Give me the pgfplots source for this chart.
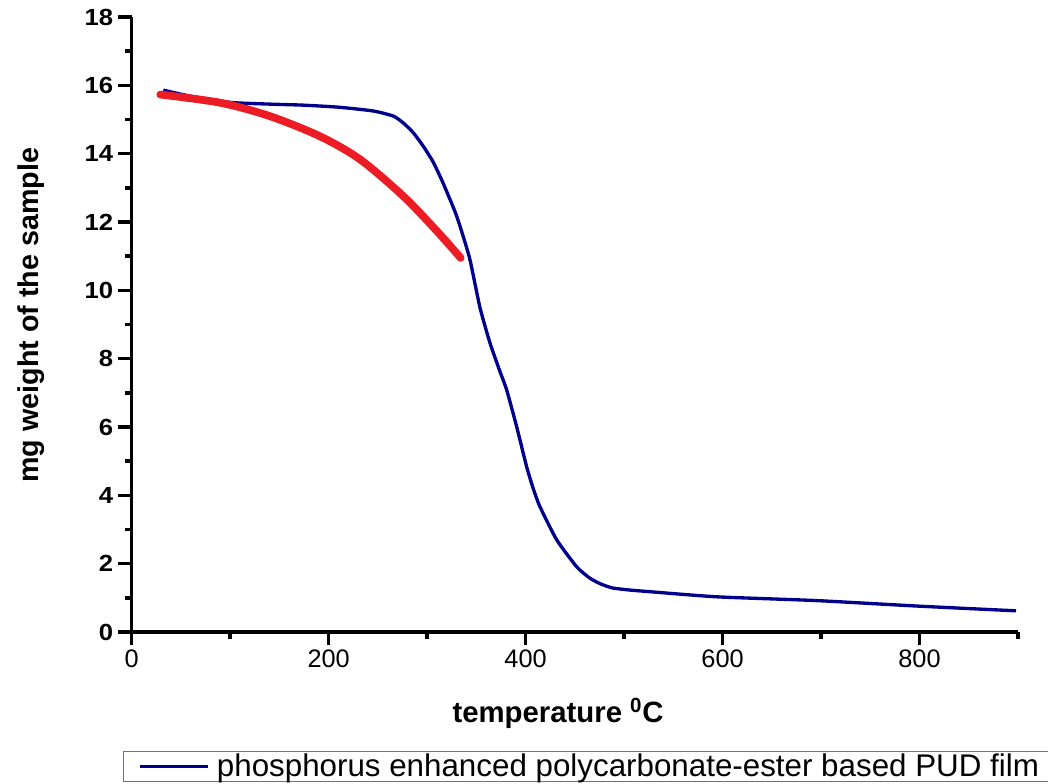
\documentclass[border=0pt]{standalone}
\usepackage{fontspec}
\setmainfont{Liberation Sans}
\usepackage{pgfplots}
\pgfplotsset{compat=1.18}
\definecolor{navyline}{RGB}{0,0,140}
\definecolor{redline}{RGB}{237,28,36}
\begin{document}
\begin{tikzpicture}
\useasboundingbox (-98.8pt,-114pt) rectangle (687.2pt,474pt);
\begin{axis}[
  at={(0,0)}, anchor=south west,
  scale only axis, width=664.7pt, height=461.25pt,
  xmin=0, xmax=900, ymin=0, ymax=18,
  axis lines*=left,
  x axis line style={line width=2.6pt},
  y axis line style={line width=2.6pt},
  xtick={0,200,...,800}, minor xtick={100,300,...,900},
  ytick={0,2,...,18}, minor ytick={1,3,...,17},
  tick align=outside,
  major tick length=10pt, minor tick length=5pt,
  every tick/.style={line width=2.6pt, black},
  tick style={line width=2.6pt, black},
  /pgf/number format/assume math mode=true,
  xticklabel style={font=\fontsize{19}{19}\selectfont},
  yticklabel style={font=\bfseries\fontsize{17.5}{17.5}\selectfont, xscale=1.1},
  xlabel={\textbf{temperature \textsuperscript{0}C}},
  ylabel={\textbf{mg weight of the sample}},
  xlabel style={font=\fontsize{22}{22}\selectfont, at={(axis description cs:0.481,-0.132)}, anchor=center},
  ylabel style={font=\fontsize{21.5}{21.5}\selectfont, at={(axis description cs:-0.1136,0.515)}, anchor=center, rotate=0},
  legend style={at={(axis description cs:-0.0098,-0.193)}, anchor=north west,
    draw=black!55, line width=0.8pt, font=\fontsize{23.5}{24}\selectfont,
    inner xsep=11pt, inner ysep=0.5pt, nodes={inner sep=1.5pt}, legend cell align=left},
  legend image code/.code={\draw[#1] (0pt,0pt) -- (51pt,0pt);},
]
\addplot[navyline, line width=2.5pt, smooth, tension=0.35] coordinates {
(32,15.86) (60,15.68) (100,15.50) (140,15.45) (174,15.42) (210,15.36) (245,15.25)
(265.6,15.10) (275.7,14.90) (286,14.61) (296,14.22) (306,13.76) (316,13.15) (330,12.17) (343,10.95)
(353.6,9.50) (363.8,8.46) (374,7.62) (380.7,7.09) (390.9,6.01) (401,4.84)
(407.7,4.20) (414.5,3.67) (431.5,2.70) (451.8,1.91) (465,1.58) (476,1.41)
(488,1.29) (505,1.23) (526,1.18) (594,1.03) (695,0.92) (797,0.76) (898,0.62)
};
\addlegendentry{\hspace{4pt}phosphorus enhanced polycarbonate-ester based PUD film}
\addplot[redline, line width=5.8pt, line cap=round, smooth, tension=0.5, forget plot] coordinates {
(29,15.73) (90,15.49) (140,15.10) (191,14.51) (232,13.83) (276,12.75) (310,11.73) (334,10.95)
};
\end{axis}
\end{tikzpicture}
\end{document}
